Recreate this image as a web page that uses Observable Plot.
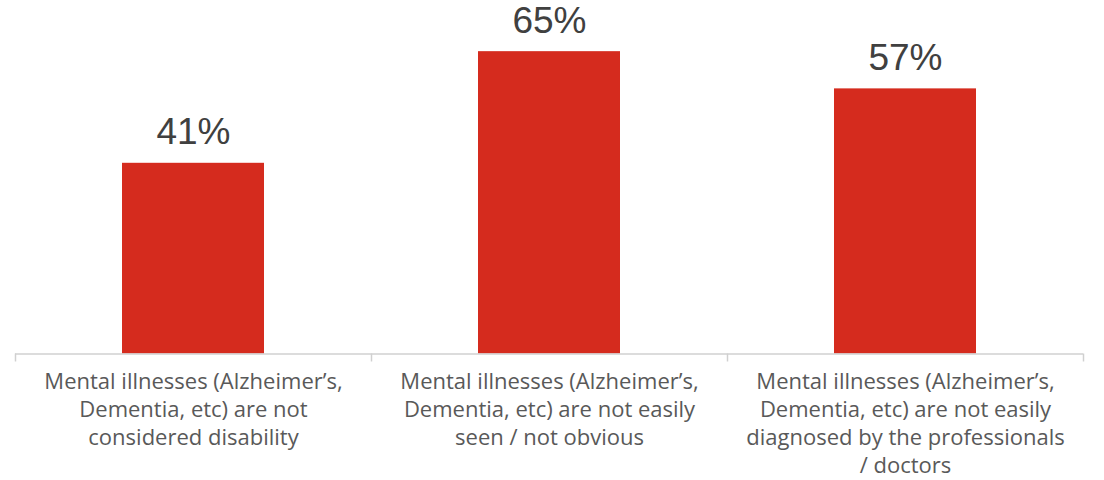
<!DOCTYPE html>
<html>
<head>
<meta charset="utf-8">
<script src="https://cdn.jsdelivr.net/npm/d3@7"></script>
<script src="https://cdn.jsdelivr.net/npm/@observablehq/plot@0.6"></script>
<style>
  html, body { margin: 0; padding: 0; background: #fff; }
</style>
</head>
<body>
<div id="chart"></div>
<script>
const categories = [
  "Mental illnesses (Alzheimer’s,\nDementia, etc) are not\nconsidered disability",
  "Mental illnesses (Alzheimer’s,\nDementia, etc) are not easily\nseen / not obvious",
  "Mental illnesses (Alzheimer’s,\nDementia, etc) are not easily\ndiagnosed by the professionals\n/ doctors"
];
const values = [41, 65, 57];
const valueLabels = ["41%", "65%", "57%"];

const data = categories.map((c, i) => ({cat: c, value: values[i], label: valueLabels[i]}));

const W = 1104, H = 480, mL = 15, mR = 21;
const bw = (W - mL - mR) / categories.length;

const chart = Plot.plot({
  width: W,
  height: H,
  marginLeft: mL,
  marginRight: mR,
  marginTop: 0,
  marginBottom: 126.5,
  style: {background: "#fff"},
  x: {domain: categories, paddingInner: 0.6, paddingOuter: 0.3, axis: null},
  y: {domain: [0, 76], axis: null},
  marks: [
    Plot.barY(data, {x: "cat", y: "value", fill: "#D52B1E"}),
    Plot.ruleY([0], {stroke: "#d0d0d0", strokeWidth: 1.5}),
    Plot.ruleX(categories, {x: d => d, y1: 0, y2: 0, dx: -bw / 2, stroke: "#d0d0d0", strokeWidth: 1.5, insetBottom: -8}),
    Plot.ruleX(categories.slice(-1), {x: d => d, y1: 0, y2: 0, dx: bw / 2, stroke: "#d0d0d0", strokeWidth: 1.5, insetBottom: -8}),
    Plot.text(data, {x: "cat", y: "value", text: "label", dy: -19, lineAnchor: "bottom",
      fontSize: 37, fill: "#404040", fontFamily: "Liberation Sans, Arial, sans-serif"}),
    Plot.text(data, {x: "cat", y: 0, text: "cat", dy: 15, lineAnchor: "top", lineHeight: 1.27,
      fontSize: 22, fill: "#595959", fontFamily: "Open Sans, sans-serif"})
  ]
});
document.getElementById("chart").appendChild(chart);
</script>
</body>
</html>
